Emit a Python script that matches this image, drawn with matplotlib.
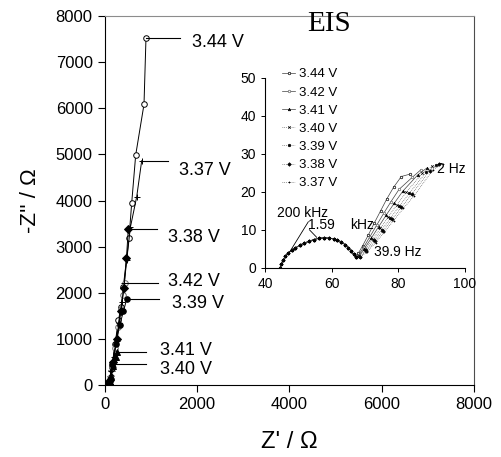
import matplotlib.pyplot as plt

plt.rcParams['font.family'] = ['Liberation Sans', 'DejaVu Sans']

voltages = ["3.44 V", "3.42 V", "3.41 V", "3.40 V", "3.39 V", "3.38 V", "3.37 V"]

# high frequency arc, common to all states of charge (ohm)
arc_re = [44.5, 44.9, 45.4, 46.1, 47.0, 48.0, 49.1, 50.4, 51.8, 53.1, 54.6,
          56.1, 57.7, 59.2, 60.6, 61.7, 62.9, 64.0, 65.0, 65.9, 66.6, 67.2]
arc_im = [0.0, 1.0, 2.0, 3.0, 3.9, 4.6, 5.2, 5.9, 6.5, 6.9, 7.4,
          7.7, 7.9, 7.8, 7.6, 7.3, 6.8, 6.1, 5.3, 4.4, 3.5, 2.7]

# 39.9 Hz .. 2 Hz part, one list per voltage
tail_re = [
    [68.0, 69.3, 71.0, 72.8, 74.7, 76.6, 78.6, 80.9, 83.4],
    [68.1, 69.6, 71.5, 73.5, 75.6, 77.8, 80.2, 84.2, 86.8],
    [68.2, 69.8, 71.9, 74.1, 76.4, 78.8, 81.4, 85.8, 88.5],
    [68.3, 70.0, 72.3, 74.6, 77.0, 79.6, 82.4, 87.2, 90.0],
    [68.4, 70.2, 72.6, 75.0, 77.6, 80.3, 83.3, 88.4, 91.3],
    [68.5, 70.4, 72.9, 75.4, 78.1, 80.9, 84.0, 89.4, 92.3],
    [68.6, 70.6, 73.2, 75.8, 78.6, 81.5, 84.8, 90.4, 93.4],
]
tail_im = [
    [3.8, 5.8, 8.6, 11.8, 15.0, 18.2, 21.2, 24.0, 24.6],
    [3.4, 5.4, 8.2, 11.2, 14.3, 17.4, 20.6, 23.8, 25.8],
    [3.2, 5.0, 7.8, 10.8, 13.9, 17.0, 20.2, 24.4, 26.2],
    [3.0, 4.8, 7.5, 10.4, 13.4, 16.6, 19.9, 24.8, 26.7],
    [2.9, 4.6, 7.2, 10.0, 13.0, 16.2, 19.6, 25.2, 27.0],
    [2.8, 4.4, 6.9, 9.7, 12.7, 15.9, 19.3, 25.5, 27.2],
    [2.7, 4.2, 6.6, 9.4, 12.4, 15.6, 19.0, 25.8, 27.4],
]

# below 2 Hz (only visible in the big plot)
low_re = [
    [110, 160, 230, 300, 360, 407, 530, 589, 675, 855, 898],
    [110, 160, 220, 290, 350, 405, 444],
    [100, 140, 190, 240, 264],
    [95, 120, 150, 170, 184],
    [110, 170, 250, 330, 410, 481],
    [110, 180, 260, 350, 420, 475, 515],
    [110, 150, 200, 260, 320, 380, 429, 481, 560, 697, 805],
]
low_im = [
    [100, 400, 900, 1400, 1700, 2131, 3180, 3952, 4986, 6086, 7530],
    [100, 380, 800, 1250, 1650, 1950, 2205],
    [60, 200, 420, 600, 722],
    [40, 130, 250, 370, 449],
    [100, 450, 900, 1300, 1600, 1864],
    [100, 500, 1000, 1600, 2100, 2750, 3382],
    [100, 300, 600, 950, 1350, 1800, 2211, 2710, 3420, 4082, 4863],
]

markers = ['o', 'o', '^', 'x', 'o', 'D', '+']
faces = ['white', 'white', 'black', 'black', 'black', 'black', 'black']
edges = ['black', '0.4', 'black', 'black', 'black', 'black', 'black']
styles = ['-', '-', '-', ':', ':', ':', ':']

fig = plt.figure(figsize=(5.02, 4.57), dpi=100)
ax = fig.add_axes([0.2082, 0.1575, 0.736, 0.8074])

for i in range(len(voltages)):
    re = arc_re + tail_re[i] + low_re[i]
    im = arc_im + tail_im[i] + low_im[i]
    ax.plot(re, im, color='black', lw=0.7, marker=markers[i], ms=4,
            mfc=faces[i], mec=edges[i], mew=0.7)

ax.set_xlim(0, 8000)
ax.set_ylim(0, 8000)
ax.set_xticks([0, 2000, 4000, 6000, 8000])
ax.set_yticks(range(0, 8001, 1000))
ax.tick_params(labelsize=12, length=5, width=0.8, direction='out')
ax.spines['top'].set_color('0.55')
ax.spines['right'].set_color('0.3')

# leader lines and labels in the big plot
main_labels = ["3.44 V", "3.37 V", "3.38 V", "3.42 V", "3.39 V", "3.41 V", "3.40 V"]
lead_x0 = [898, 805, 515, 444, 481, 264, 184]
lead_x1 = [1635, 1381, 1130, 1158, 1180, 898, 898]
lead_y = [7530, 4863, 3382, 2205, 1864, 722, 449]
text_x = [1888, 1619, 1381, 1381, 1455, 1202, 1202]
text_y = [7421, 4661, 3202, 2240, 1778, 759, 347]
for lab, x0, x1, y, tx, ty in zip(main_labels, lead_x0, lead_x1, lead_y, text_x, text_y):
    ax.plot([x0, x1], [y, y], color='black', lw=0.8)
    ax.text(tx, ty, lab, fontsize=13, va='center', ha='left')

fig.text(0.576, 0.033, "Z' / Ω", fontsize=17, ha='center', va='center')
fig.text(0.06, 0.56, "-Z'' / Ω", fontsize=16, rotation=90, ha='center', va='center')
fig.text(0.656, 0.948, "EIS", fontsize=21, family='Liberation Serif',
         ha='center', va='center')

# inset
ins = fig.add_axes([0.5279, 0.4142, 0.3984, 0.4158])
ins.patch.set_alpha(0)
handles = []
for i in range(len(voltages)):
    re = arc_re + tail_re[i]
    im = arc_im + tail_im[i]
    h, = ins.plot(re, im, color='0.25', lw=0.5, ls=styles[i], marker=markers[i],
                  ms=1.8, mfc=faces[i], mec=edges[i], mew=0.5, label=voltages[i])
    handles.append(h)
ins.set_xlim(40, 100)
ins.set_ylim(0, 50)
ins.set_xticks([40, 60, 80, 100])
ins.set_yticks(range(0, 51, 10))
ins.tick_params(labelsize=10, length=3, width=0.7, direction='out')
ins.spines['top'].set_visible(False)
ins.spines['right'].set_visible(False)

ins.plot([53.0, 47.3], [12.1, 4.0], color='black', lw=0.6)
ins.plot([53.3, 55.5], [10.0, 8.0], color='black', lw=0.6)
ins.text(43.6, 14.5, "200 kHz", fontsize=10, va='center')
ins.text(53.0, 11.3, "1.59", fontsize=10, va='center')
ins.text(65.5, 11.3, "kHz", fontsize=10, va='center')
ins.text(72.7, 4.2, "39.9 Hz", fontsize=10, va='center')
ins.text(91.5, 26.0, "2 Hz", fontsize=10, va='center')

fig.legend(handles=handles, loc='upper left', bbox_to_anchor=(0.562, 0.851),
           frameon=False, fontsize=9.5, handlelength=1.0, handletextpad=0.3,
           labelspacing=0.45, borderpad=0, borderaxespad=0)

fig.savefig('out.png', dpi=100)
